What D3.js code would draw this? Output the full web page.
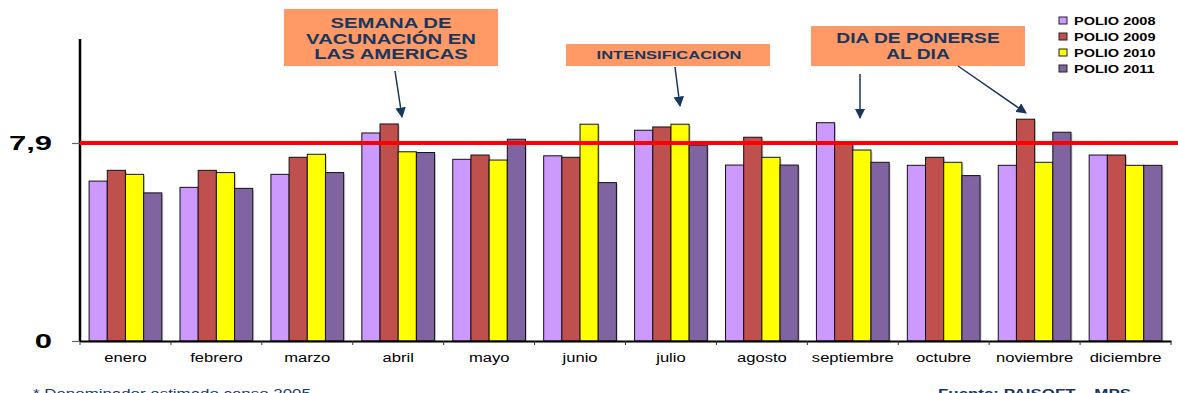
<!DOCTYPE html>
<html><head><meta charset="utf-8">
<script src="https://cdn.jsdelivr.net/npm/d3@7"></script>
<style>body{margin:0;background:#fff}svg{display:block}text{font-family:"Liberation Sans",Arial,sans-serif}</style>
</head><body>
<svg id="c" width="1178" height="393"></svg>
<script>
const months = ["enero","febrero","marzo","abril","mayo","junio","julio","agosto","septiembre","octubre","noviembre","diciembre"];
const seriesNames = ["POLIO 2008","POLIO 2009","POLIO 2010","POLIO 2011"];
const polio2008 = [6.38,6.13,6.65,8.30,7.25,7.39,8.41,7.02,8.71,7.01,7.01,7.42];
const polio2009 = [6.81,6.81,7.33,8.66,7.42,7.33,8.54,8.13,7.93,7.33,8.85,7.42];
const polio2010 = [6.65,6.72,7.45,7.55,7.22,8.65,8.65,7.33,7.62,7.13,7.13,7.01];
const polio2011 = [5.91,6.09,6.72,7.52,8.05,6.32,7.82,7.02,7.13,6.60,8.33,7.01];
const yTickValues = [0, 7.9];
const yTickLabels = ["0", "7,9"];
const goal = 7.9;
const colors = ["#CC99FF","#C0504D","#FFFF00","#8064A2"];

const series = [polio2008, polio2009, polio2010, polio2011];
const svg = d3.select("#c");
const navy = "#17375E";

const x0 = d3.scaleBand().domain(months).range([80, 1171]).padding(0);
const x1 = d3.scaleBand().domain(seriesNames).range([x0.bandwidth()*0.1, x0.bandwidth()*0.9]).padding(0);
const y = d3.scaleLinear().domain([0, 12.05]).range([341, 39]);

function label(parent, txt, x, yy, size, weight, color, anchor, sx){
  return parent.append("text").attr("transform", `translate(${x},${yy}) scale(${sx},1)`)
    .attr("text-anchor", anchor).attr("font-size", size).attr("font-weight", weight)
    .attr("fill", color).text(txt);
}

// bars
const groups = svg.append("g").selectAll("g").data(months).join("g")
  .attr("transform", d => `translate(${x0(d)},0)`);
groups.each(function(m, i){
  const g = d3.select(this);
  seriesNames.forEach((s, k) => {
    const v = series[k][i];
    g.append("rect").attr("x", x1(s)+1.5).attr("y", y(v)+1.5).attr("width", x1.bandwidth()).attr("height", y(0)-y(v))
      .attr("fill", "#999").attr("opacity", 0.45);
  });
  seriesNames.forEach((s, k) => {
    const v = series[k][i];
    g.append("rect").attr("x", x1(s)).attr("y", y(v)).attr("width", x1.bandwidth()).attr("height", y(0)-y(v))
      .attr("fill", colors[k]).attr("stroke", "#111").attr("stroke-width", 1);
  });
});

// x axis
const xAxis = svg.append("g").attr("transform", `translate(0,${y(0)})`)
  .call(d3.axisBottom(x0).tickSize(0).tickFormat(""));
xAxis.select(".domain").attr("stroke", "#000").attr("stroke-width", 2);
const bounds = months.map(m => x0(m)).concat([x0.range()[1]]);
svg.append("g").selectAll("line").data(bounds).join("line")
  .attr("x1", d => d).attr("x2", d => d).attr("y1", y(0)).attr("y2", y(0)+4)
  .attr("stroke", "#333").attr("stroke-width", 1);
months.forEach(m => label(svg, m, x0(m)+x0.bandwidth()/2, 362, 12, "normal", "#000", "middle", 1.38));

// y axis
const yAxis = svg.append("g").attr("transform", "translate(80,0)")
  .call(d3.axisLeft(y).tickValues(yTickValues).tickSize(8).tickFormat(""));
yAxis.select(".domain").attr("stroke", "#000").attr("stroke-width", 2.5).attr("d", `M0,${y(0)+1}V${y.range()[1]}`);
yAxis.selectAll(".tick line").attr("stroke", "#666").attr("stroke-width", 1.2);
yTickValues.forEach((v, i) => label(svg, yTickLabels[i], 52, y(v)+7, 20, "bold", "#000", "end", 1.55));

// goal line
svg.append("line").attr("x1", 80).attr("x2", 1178).attr("y1", y(goal)).attr("y2", y(goal))
  .attr("stroke", "#FF0000").attr("stroke-width", 4);

// legend
const leg = svg.append("g");
seriesNames.forEach((s, k) => {
  const cy = 21 + k*16;
  leg.append("rect").attr("x", 1059).attr("y", cy-4).attr("width", 8).attr("height", 7)
    .attr("fill", colors[k]).attr("stroke", "#222").attr("stroke-width", 1);
  label(leg, s, 1074, cy+4, 11, "bold", "#000", "start", 1.32);
});

// annotations
const orange = "#FF9966";
const defs = svg.append("defs");
defs.append("marker").attr("id", "ah").attr("viewBox", "0 0 10 10").attr("refX", 9).attr("refY", 5)
  .attr("markerWidth", 7).attr("markerHeight", 7).attr("orient", "auto-start-reverse")
  .append("path").attr("d", "M0,0L10,5L0,10Z").attr("fill", navy);

svg.append("rect").attr("x", 284).attr("y", 9).attr("width", 214).attr("height", 57).attr("fill", orange);
[["SEMANA DE", 28], ["VACUNACIÓN EN", 44], ["LAS AMERICAS", 59]].forEach(([t, yy]) =>
  label(svg, t, 391, yy, 14, "bold", navy, "middle", 1.45));

svg.append("rect").attr("x", 566).attr("y", 44).attr("width", 204).attr("height", 22).attr("fill", orange);
label(svg, "INTENSIFICACION", 669, 59, 11, "bold", navy, "middle", 1.5);

svg.append("rect").attr("x", 811).attr("y", 26).attr("width", 214).attr("height", 40).attr("fill", orange);
label(svg, "DIA DE PONERSE", 918, 43, 14, "bold", navy, "middle", 1.37);
label(svg, "AL DIA", 918, 59, 14, "bold", navy, "middle", 1.37);

const arrows = [[395,71,402,117],[675,67,680,106],[860,74,860,118],[958,66,1026,113]];
svg.append("g").selectAll("line").data(arrows).join("line")
  .attr("x1", d => d[0]).attr("y1", d => d[1]).attr("x2", d => d[2]).attr("y2", d => d[3])
  .attr("stroke", navy).attr("stroke-width", 1.5).attr("marker-end", "url(#ah)");

// footnotes
label(svg, "* Denominador estimado censo 2005", 33, 398, 13, "normal", navy, "start", 1.3);
label(svg, "Fuente: PAISOFT – MPS", 938, 398, 13, "bold", navy, "start", 1.3);
</script>
</body></html>
